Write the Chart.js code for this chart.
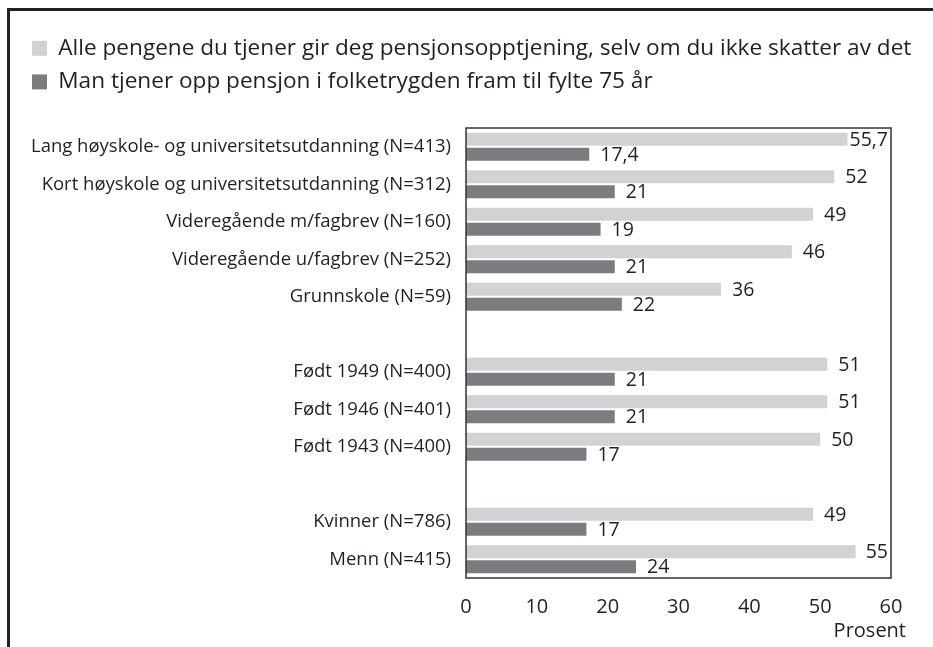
<!DOCTYPE html>
<html>
<head>
<meta charset="utf-8">
<script src="https://cdn.jsdelivr.net/npm/chart.js@4"></script>
<style>
  html, body { margin: 0; padding: 0; background: #fff; }
  #wrap { position: relative; width: 933px; height: 647px; overflow: hidden; }
  #frame { position: absolute; left: 7px; top: 8px; width: 960px; height: 700px;
           border-top: 3px solid #222; border-left: 3px solid #222; }
  canvas { position: absolute; left: 0; top: 0; }
</style>
</head>
<body>
<div id="wrap">
  <div id="frame"></div>
  <canvas id="myChart" width="933" height="647"></canvas>
</div>
<script>
// categories (empty strings are the gaps between groups)
const categories = [
    'Lang høyskole- og universitetsutdanning (N=413)',
    'Kort høyskole og universitetsutdanning (N=312)',
    'Videregående m/fagbrev (N=160)',
    'Videregående u/fagbrev (N=252)',
    'Grunnskole (N=59)',
    '',
    'Født 1949 (N=400)',
    'Født 1946 (N=401)',
    'Født 1943 (N=400)',
    '',
    'Kvinner (N=786)',
    'Menn (N=415)'
];

// series
const seriesNames = [
    'Alle pengene du tjener gir deg pensjonsopptjening, selv om du ikke skatter av det',
    'Man tjener opp pensjon i folketrygden fram til fylte 75 år'
];
const allePengene = [55.7, 52, 49, 46, 36, null, 51, 51, 50, null, 49, 55];
const fylte75 = [17.4, 21, 19, 21, 22, null, 21, 21, 17, null, 17, 24];

// x axis
const xMin = 0;
const xMax = 60;
const xStep = 10;
const xTitle = 'Prosent';

const fontFamily = "'Open Sans', 'Noto Sans', sans-serif";
const textColor = '#231f20';
const padTop = 26;
const padLeft = 21;
const plotTop = 128;

// Format numbers with a comma as decimal separator
function fmt(v) {
    return String(v).replace('.', ',');
}

// Keep the legend block a fixed height so the plot starts where it should
const legendHeight = {
    id: 'legendHeight',
    beforeInit(chart) {
        const lg = chart.legend;
        const orig = lg.fit;
        lg.fit = function () {
            orig.call(this);
            this.height = plotTop - padTop;
        };
    }
};

// Box around the plot area
const plotFrame = {
    id: 'plotFrame',
    afterDatasetsDraw(chart) {
        const { ctx, chartArea: a } = chart;
        ctx.save();
        ctx.strokeStyle = '#333';
        ctx.lineWidth = 1.5;
        ctx.strokeRect(a.left, a.top, a.right - a.left, a.bottom - a.top);
        ctx.restore();
    }
};

// Value labels at the end of each bar
const valueLabels = {
    id: 'valueLabels',
    afterDraw(chart) {
        const { ctx, chartArea: a } = chart;
        ctx.save();
        ctx.font = '19.5px ' + fontFamily;
        ctx.textBaseline = 'middle';
        ctx.textAlign = 'left';
        chart.data.datasets.forEach((ds, i) => {
            chart.getDatasetMeta(i).data.forEach((bar, j) => {
                const v = ds.data[j];
                if (v === null) return;
                const txt = fmt(v);
                const w = ctx.measureText(txt).width;
                let x = bar.x + 11;
                if (x + w > a.right - 3) {
                    x = a.right - 3 - w;
                    ctx.fillStyle = '#fff';
                    ctx.fillRect(x - 2, bar.y - bar.height / 2 - 2, w + 4, bar.height + 4);
                }
                ctx.fillStyle = textColor;
                ctx.fillText(txt, x, bar.y + 1);
            });
        });
        // axis title
        const xs = chart.scales.x;
        ctx.font = '20px ' + fontFamily;
        ctx.textAlign = 'right';
        ctx.fillText(xTitle, xs.getPixelForValue(xMax) + 15, 631);
        ctx.restore();
    }
};

const ctx = document.getElementById('myChart').getContext('2d');
const myChart = new Chart(ctx, {
    type: 'bar',
    data: {
        labels: categories,
        datasets: [{
            label: seriesNames[0],
            data: allePengene,
            backgroundColor: '#d1d2d4',
            categoryPercentage: 0.8,
            barPercentage: 0.86
        }, {
            label: seriesNames[1],
            data: fylte75,
            backgroundColor: '#7b7c80',
            categoryPercentage: 0.8,
            barPercentage: 0.86
        }]
    },
    options: {
        indexAxis: 'y',
        responsive: false,
        animation: false,
        layout: {
            padding: { left: padLeft, right: 10, top: padTop, bottom: 0 }
        },
        plugins: {
            legend: {
                position: 'top',
                align: 'start',
                labels: {
                    boxWidth: 15,
                    boxHeight: 15,
                    padding: 11,
                    color: textColor,
                    font: { family: fontFamily, size: 22.6 }
                }
            },
            tooltip: { enabled: false }
        },
        scales: {
            x: {
                min: xMin,
                max: xMax,
                ticks: {
                    stepSize: xStep,
                    color: textColor,
                    padding: 17,
                    font: { family: fontFamily, size: 20 }
                },
                grid: { display: false, drawTicks: false },
                border: { display: false },
                afterFit(scale) { scale.height = 69; }
            },
            y: {
                ticks: {
                    autoSkip: false,
                    color: textColor,
                    padding: 15,
                    font: { family: fontFamily, size: 18.5 }
                },
                grid: { display: false, drawTicks: false },
                border: { display: false },
                afterFit(scale) { scale.width = 466 - padLeft; }
            },
            // empty right-hand axis that only reserves space on the right
            spacer: {
                type: 'linear',
                position: 'right',
                ticks: { display: false },
                grid: { display: false, drawTicks: false },
                border: { display: false },
                afterFit(scale) { scale.width = 32; }
            }
        }
    },
    plugins: [legendHeight, plotFrame, valueLabels]
});
</script>
</body>
</html>
